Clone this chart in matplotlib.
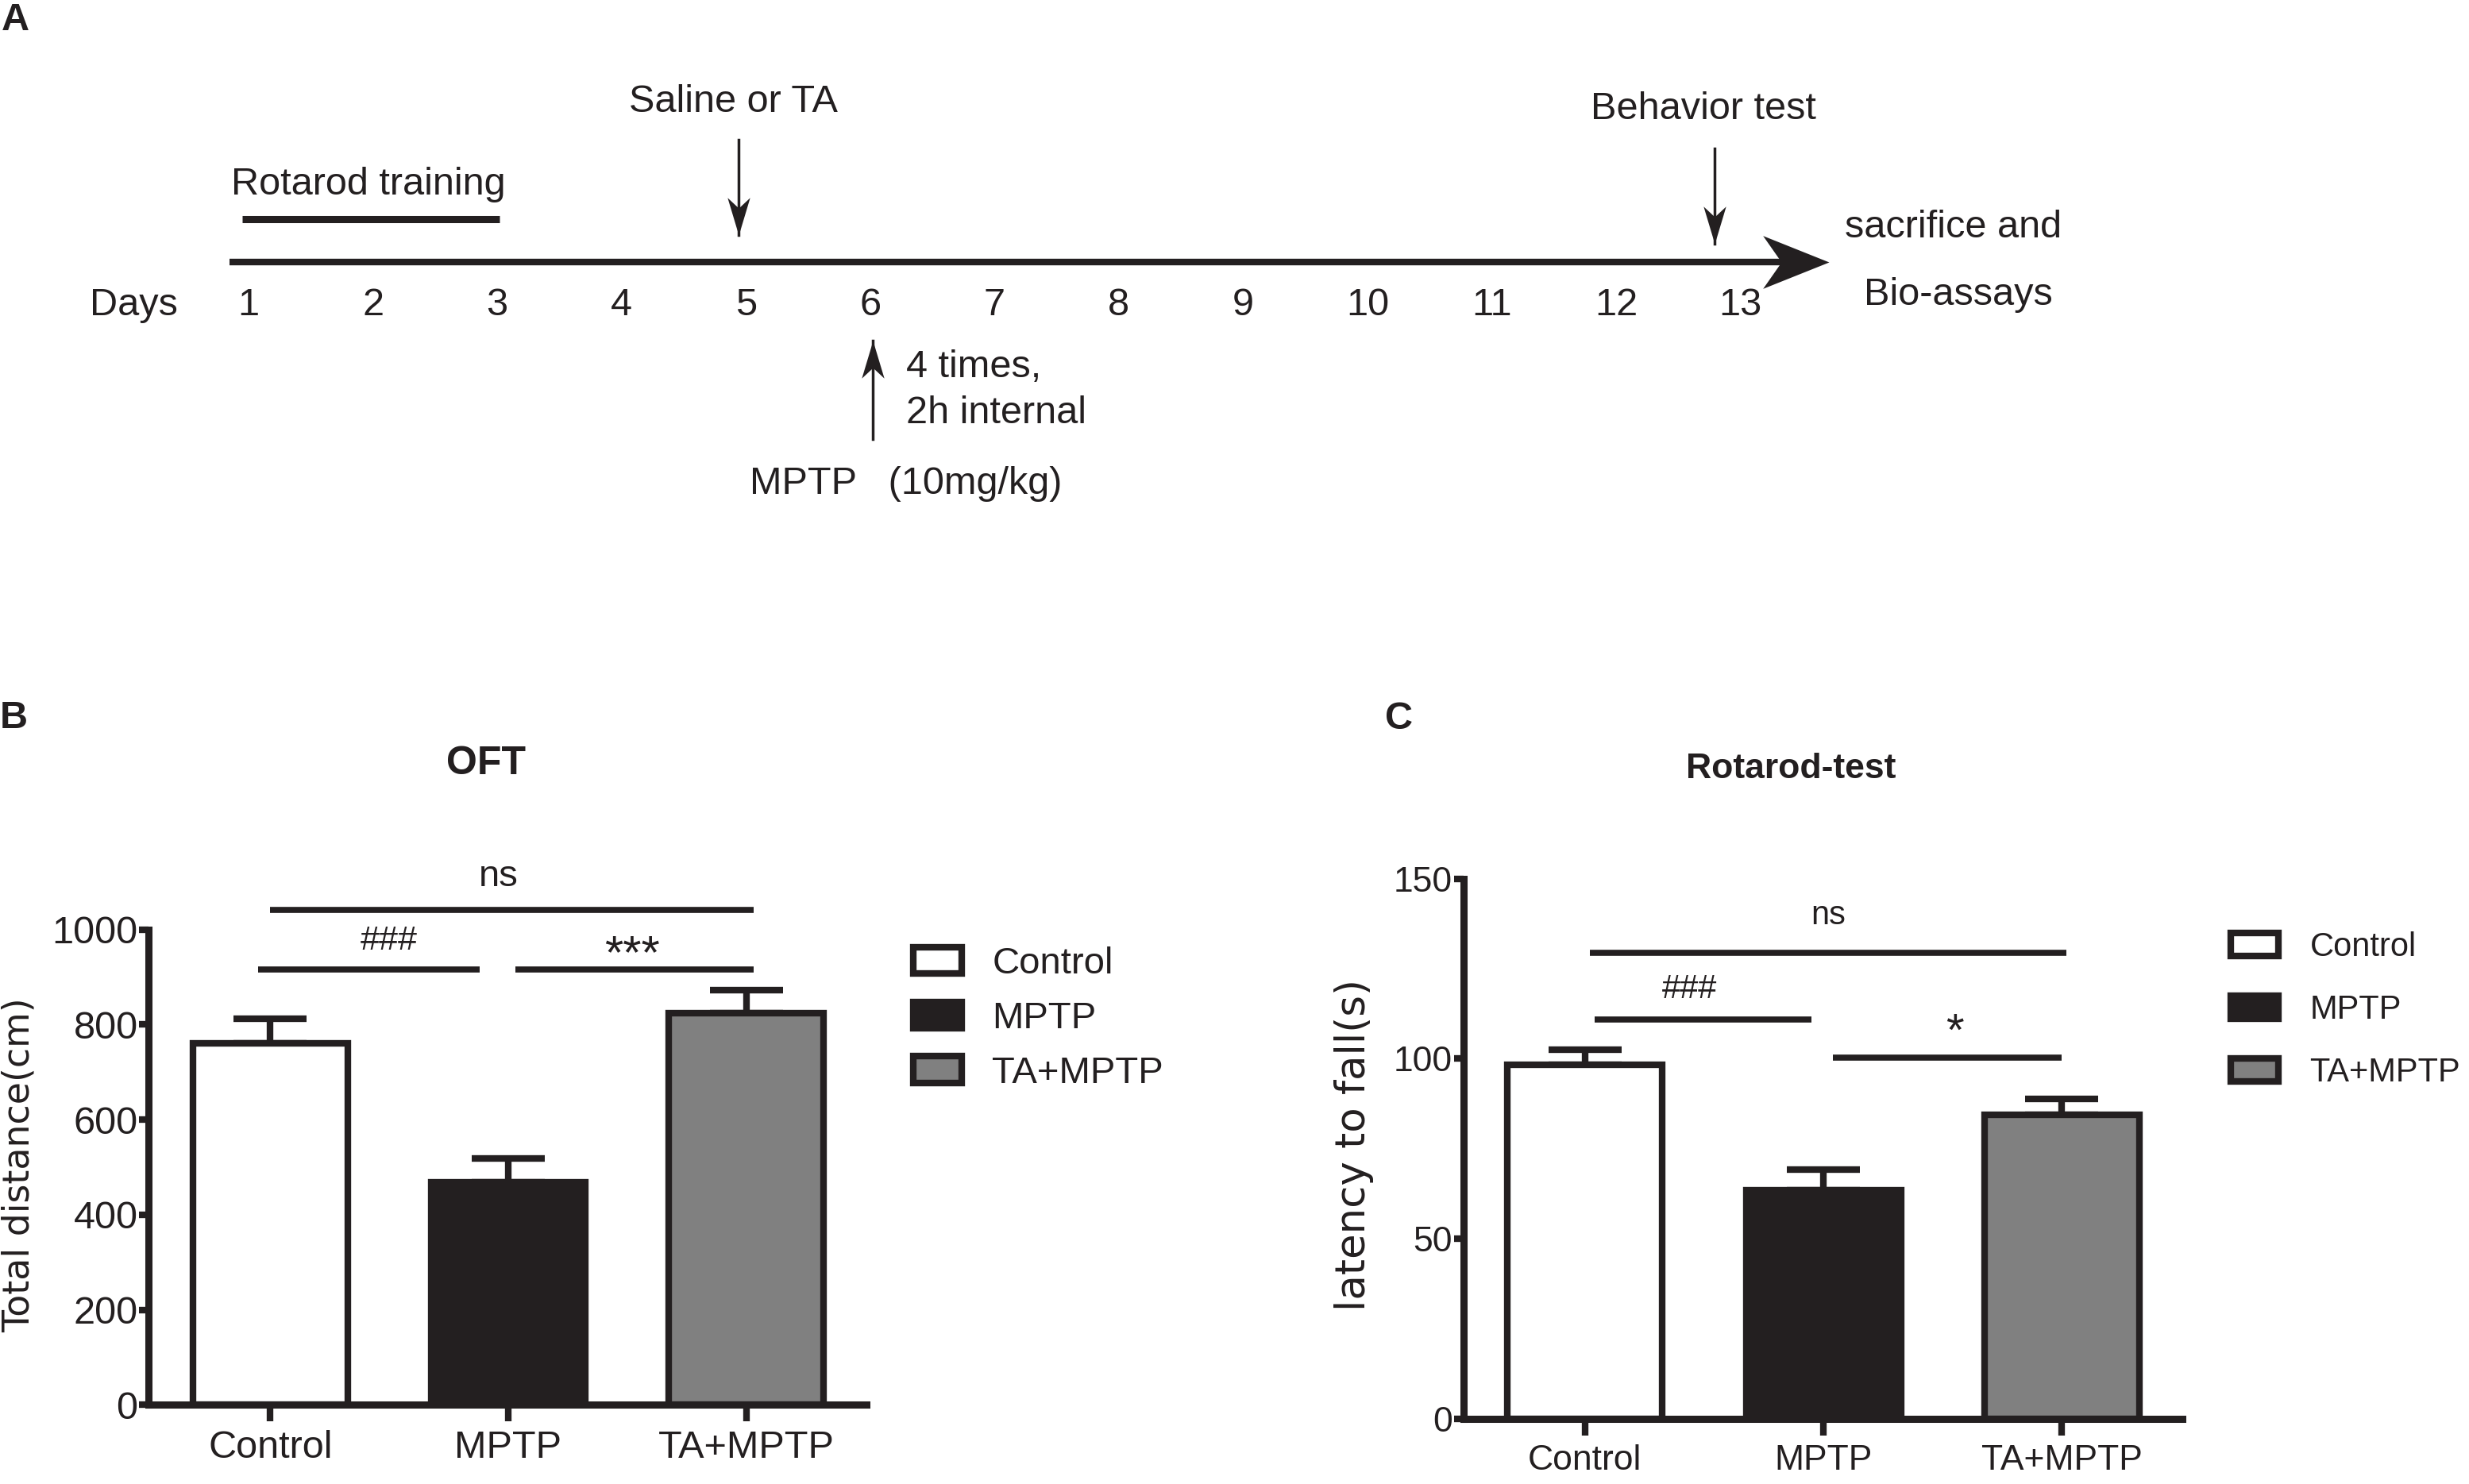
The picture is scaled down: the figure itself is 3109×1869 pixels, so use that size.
import matplotlib.pyplot as plt
from matplotlib.patches import Patch

plt.rcParams['font.family'] = ['Liberation Sans', 'DejaVu Sans']

# -------------------------------------------------------- #
#                        Data                              #
# -------------------------------------------------------- #

groups = ['Control', 'MPTP', 'TA+MPTP']
bar_colors = ['#ffffff', '#231f20', '#808080']

oft_mean = [761, 468, 824]
oft_sem = [51, 51, 48]
oft_ticks = [0, 200, 400, 600, 800, 1000]

rot_mean = [98.2, 63.4, 84.4]
rot_sem = [4.3, 5.7, 4.3]
rot_ticks = [0, 50, 100, 150]

days = list(range(1, 14))

# significance: (x0, x1, line_y, label, label_x, label_y, fontsize)
oft_sig = [(0.0, 2.03, 1042, 'ns', 0.96, 1111, 34),
           (-0.05, 0.88, 916, '###', 0.50, 976, 31),
           (1.03, 2.03, 916, '***', 1.52, 946, 43)]
rot_sig = [(0.02, 2.02, 129.4, 'ns', 1.02, 139.8, 30),
           (0.04, 0.95, 110.8, '###', 0.44, 119.2, 30),
           (1.04, 2.00, 100.3, '*', 1.55, 107.0, 42)]

ink = '#231f20'

fig = plt.figure(figsize=(31.09, 18.69), dpi=100)

# -------------------------------------------------------- #
#                 Panel A : time line                      #
# -------------------------------------------------------- #

axA = fig.add_axes([0, 0, 1, 1], zorder=0)
axA.set_xlim(-1.0, 18.861)   # x in days
axA.set_ylim(1869, 0)        # y in pixels from the top
axA.axis('off')

fsA = 35

# stealth-shaped arrow heads, tip at the marker position
head_right = [(0, 0), (-1, 0.4), (-0.72, 0), (-1, -0.4), (0, 0)]
head_down = [(0, 0), (-0.3, 1), (0, 0.72), (0.3, 1), (0, 0)]
head_up = [(x, -y) for x, y in head_down]


def thin_arrow(x, y_from, y_to, head):
    axA.plot([x, x], [y_from, y_to], lw=2.5, color=ink)
    axA.plot([x], [y_to], marker=head, markersize=68, color=ink,
             markeredgewidth=0)


axA.plot([0.846, 13.5], [330, 330], lw=6, color=ink,
         solid_capstyle='butt')
axA.plot([13.71], [330], marker=head_right, markersize=120, color=ink,
         markeredgewidth=0)
axA.plot([0.948, 3.02], [276, 276], lw=6.5, color=ink,
         solid_capstyle='butt')
axA.text(0.859, 232, 'Rotarod training', ha='left', va='center',
         fontsize=fsA, color=ink)

axA.text(0.073, 384, 'Days', ha='center', va='center',
         fontsize=fsA, color=ink)
for d in days:
    axA.text(d, 384, str(d), ha='center', va='center',
             fontsize=fsA, color=ink)

thin_arrow(4.94, 176, 296, head_down)
axA.text(4.90, 128, 'Saline or TA', ha='center', va='center',
         fontsize=fsA, color=ink)

thin_arrow(12.79, 187, 307, head_down)
axA.text(12.70, 137, 'Behavior test', ha='center', va='center',
         fontsize=fsA, color=ink)

axA.text(14.71, 286, 'sacrifice and', ha='center', va='center',
         fontsize=fsA, color=ink)
axA.text(14.75, 371, 'Bio-assays', ha='center', va='center',
         fontsize=fsA, color=ink)

thin_arrow(6.02, 553, 429, head_up)
axA.text(6.29, 462, '4 times,', ha='left', va='center',
         fontsize=fsA, color=ink)
axA.text(6.29, 520, '2h internal', ha='left', va='center',
         fontsize=fsA, color=ink)
axA.text(5.03, 609, 'MPTP   (10mg/kg)', ha='left', va='center',
         fontsize=fsA, color=ink)

# -------------------------------------------------------- #
#                 Bar chart helper                         #
# -------------------------------------------------------- #


def bar_panel(ax, means, sems, ticks, sig, tick_fs, legend_fs,
              legend_anchor, labelspacing, handlelength, textpad):
    x = list(range(len(groups)))
    ax.patch.set_visible(False)
    ax.bar(x, means, width=0.65, color=bar_colors, edgecolor=ink,
           linewidth=6, zorder=3, clip_on=False)
    ax.errorbar(x, means, yerr=[[0] * len(sems), sems], fmt='none',
                ecolor=ink, elinewidth=6, capsize=33, capthick=6,
                zorder=2)
    ax.set_xlim(-0.51, 2.505)
    ax.set_ylim(0, ticks[-1])
    ax.set_yticks(ticks)
    ax.set_xticks(x)
    ax.set_xticklabels(groups)
    for s in ['top', 'right']:
        ax.spines[s].set_visible(False)
    for s in ['left', 'bottom']:
        ax.spines[s].set_linewidth(6.5)
        ax.spines[s].set_color(ink)
    ax.tick_params(axis='x', length=15, width=6, pad=8,
                   labelsize=tick_fs, colors=ink)
    ax.tick_params(axis='y', length=9, width=6, pad=1,
                   labelsize=tick_fs, colors=ink)

    for x0, x1, ly, lab, tx, ty, fs in sig:
        ax.plot([x0, x1], [ly, ly], lw=5.5, color=ink, clip_on=False,
                solid_capstyle='butt')
        ax.text(tx, ty, lab, ha='center', va='center', fontsize=fs,
                color=ink, clip_on=False)

    handles = [Patch(facecolor=c, edgecolor=ink, linewidth=6,
                     joinstyle='round') for c in bar_colors]
    ax.legend(handles, groups, loc='center left',
              bbox_to_anchor=legend_anchor,
              bbox_transform=fig.transFigure, frameon=False,
              fontsize=legend_fs, borderpad=0, borderaxespad=0,
              labelspacing=labelspacing, handlelength=handlelength,
              handleheight=0.7, handletextpad=textpad, labelcolor=ink)


# -------------------------------------------------------- #
#                 Panel B : OFT                            #
# -------------------------------------------------------- #

axB = fig.add_axes([0.0603, 0.05334, 0.2906, 0.32023])
bar_panel(axB, oft_mean, oft_sem, oft_ticks, oft_sig, 35, 34,
          (1150 / 3109, 1 - 1283 / 1869), 0.52, 1.3, 0.8)
fig.text(612 / 3109, 1 - 962 / 1869, 'OFT', ha='center', va='center',
         fontsize=36, fontweight='bold', color=ink)
fig.text(24 / 3109, 1 - 1467 / 1869, 'Total distance(cm)', rotation=90,
         ha='center', va='center', fontsize=33, family='DejaVu Sans',
         color=ink)

# -------------------------------------------------------- #
#                 Panel C : Rotarod                        #
# -------------------------------------------------------- #

axC = fig.add_axes([0.5927, 0.04409, 0.2912, 0.36388])
bar_panel(axC, rot_mean, rot_sem, rot_ticks, rot_sig, 32, 30,
          (2809 / 3109, 1 - 1272 / 1869), 0.94, 1.44, 0.95)
fig.text(2255 / 3109, 1 - 968 / 1869, 'Rotarod-test', ha='center',
         va='center', fontsize=32, fontweight='bold', color=ink)
fig.text(1705 / 3109, 1 - 1442 / 1869, 'latency to fall(s)', rotation=90,
         ha='center', va='center', fontsize=37, family='DejaVu Sans',
         color=ink)

# -------------------------------------------------------- #
#                 Panel letters                            #
# -------------------------------------------------------- #

for lab, px, py in [('A', 19, 26), ('B', 17, 904), ('C', 1762, 905)]:
    fig.text(px / 3109, 1 - py / 1869, lab, ha='center', va='center',
             fontsize=35, fontweight='bold', color=ink)

plt.savefig('out.png', dpi=100)
